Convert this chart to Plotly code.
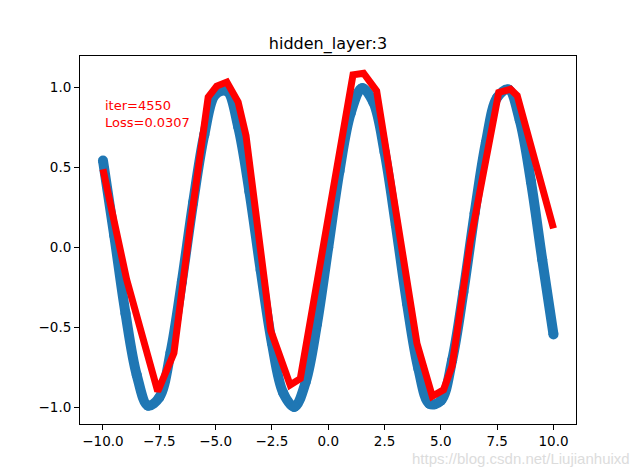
import plotly.graph_objects as go

# blue scatter: target curve
x_data = [-10.0, -9.5, -9.0, -8.5, -8.0, -7.5, -7.0, -6.5, -6.0, -5.5, -5.0, -4.5, -4.0, -3.5, -3.0,
          -2.5, -2.0, -1.5, -1.0, -0.5, 0.0, 0.5, 1.0, 1.5, 2.0, 2.5, 3.0, 3.5, 4.0, 4.5, 5.0,
          5.5, 6.0, 6.5, 7.0, 7.5, 8.0, 8.5, 9.0, 9.5, 10.0]
y_data = [0.544, 0.075, -0.412, -0.798, -0.989, -0.938, -0.657, -0.215, 0.279, 0.706, 0.959,
          0.978, 0.757, 0.351, -0.141, -0.598, -0.909, -0.997, -0.841, -0.479, 0.0, 0.479, 0.841,
          0.997, 0.909, 0.598, 0.141, -0.351, -0.757, -0.978, -0.959, -0.706, -0.279, 0.215,
          0.657, 0.938, 0.989, 0.798, 0.412, -0.075, -0.544]

# red line: network prediction
x_pred = [-10.0, -8.95, -7.57, -6.85, -6.15, -5.33, -4.95, -4.5, -4.0, -3.65, -2.55, -1.69, -1.24,
          1.1, 1.57, 2.15, 3.94, 4.62, 5.12, 5.5, 6.3, 7.57, 8.09, 8.39, 10.0]
y_pred = [0.49, -0.20, -0.90, -0.66, 0.11, 0.94, 1.01, 1.035, 0.91, 0.70, -0.52, -0.86, -0.82,
          1.08, 1.09, 0.98, -0.60, -0.93, -0.89, -0.74, 0.03, 0.97, 0.99, 0.95, 0.12]

x_ticks = [-10.0, -7.5, -5.0, -2.5, 0.0, 2.5, 5.0, 7.5, 10.0]
y_ticks = [-1.0, -0.5, 0.0, 0.5, 1.0]

title_text = "hidden_layer:3"
info_text = "iter=4550<br>Loss=0.0307"
watermark = "https://blog.csdn.net/Liujianhuixd"

# page body has an 8px margin, figure is sized to compensate
W, H = 632, 468
ML, MR, MT, MB = 72, 64, 48, 52

fig = go.Figure()
fig.add_trace(go.Scatter(
    x=x_data, y=y_data, mode="lines+markers",
    line=dict(color="#1f77b4", width=10, shape="spline", smoothing=1.0),
    marker=dict(color="#1f77b4", size=10),
    showlegend=False, hoverinfo="skip"))
fig.add_trace(go.Scatter(
    x=x_pred, y=y_pred, mode="lines",
    line=dict(color="#ff0000", width=7),
    showlegend=False, hoverinfo="skip"))

axis_common = dict(
    showgrid=False, zeroline=False, showline=True, linecolor="black", linewidth=1,
    mirror=True, ticks="outside", ticklen=5, tickwidth=1, tickcolor="black",
    tickformat=".1f", tickfont=dict(family="DejaVu Sans", size=13.5, color="black"))

fig.update_layout(
    width=W, height=H,
    margin=dict(l=ML, r=MR, t=MT, b=MB),
    paper_bgcolor="white", plot_bgcolor="white",
    title=dict(text=title_text, x=320 / W, xanchor="center", y=1 - 41 / H, yanchor="bottom",
               font=dict(family="DejaVu Sans", size=16, color="black")),
    xaxis=dict(range=[-11.02, 11.0], tickvals=x_ticks, **axis_common),
    yaxis=dict(range=[-1.104, 1.198], tickvals=y_ticks, **axis_common),
    annotations=[
        dict(x=-10.0, y=0.72, xref="x", yref="y", text=info_text, showarrow=False,
             xanchor="left", yanchor="bottom", align="left",
             font=dict(family="DejaVu Sans", size=13, color="#ff0000")),
        dict(x=(624 - ML) / (W - ML - MR), y=(H - MB - 450) / (H - MT - MB),
             xref="paper", yref="paper", text=watermark, showarrow=False,
             xanchor="right", yanchor="middle",
             font=dict(family="Liberation Sans", size=15, color="#dcdcdc")),
    ],
)

fig.write_html("out.html")
